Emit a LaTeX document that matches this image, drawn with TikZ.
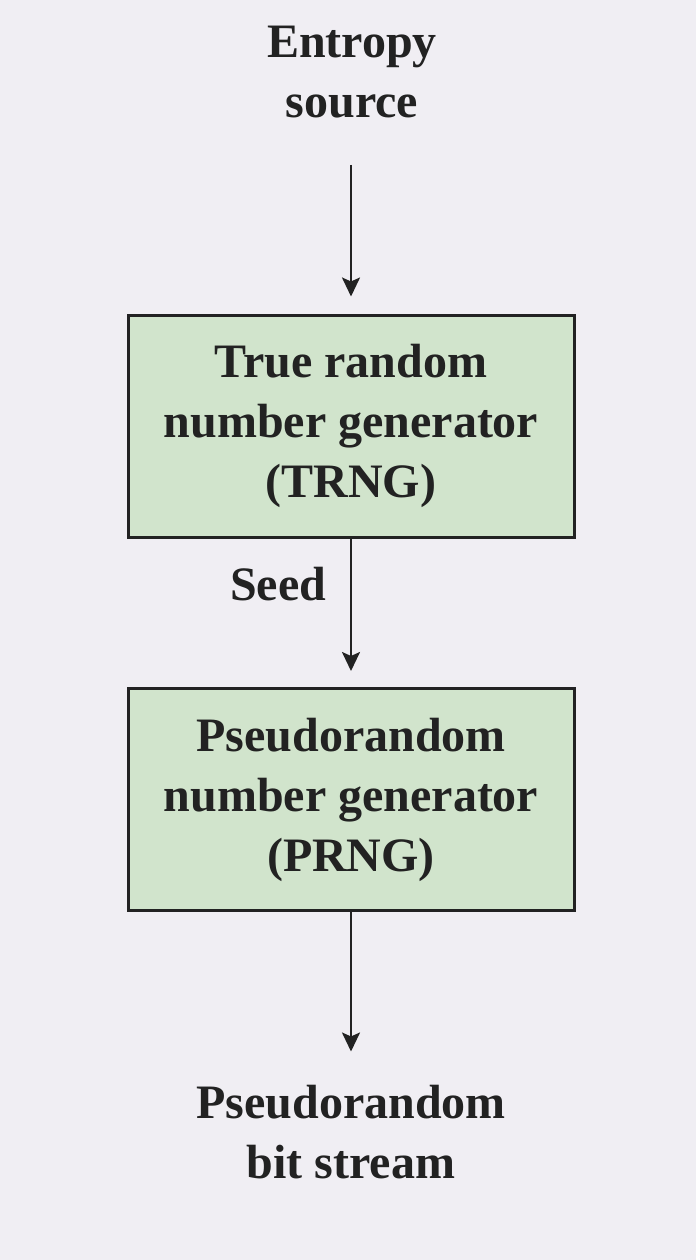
\documentclass[tikz,border=0pt]{standalone}
\usepackage{fontspec}
\setmainfont{Liberation Serif}
\usetikzlibrary{arrows.meta}
\definecolor{bgcol}{HTML}{F0EEF3}
\definecolor{boxfill}{HTML}{D1E4CC}
\definecolor{linecol}{HTML}{222222}
\tikzset{
  txt/.style={font=\fontsize{48}{60}\selectfont\bfseries, align=center, inner sep=0pt, text=linecol},
  genbox/.style={txt, draw=linecol, line width=3pt, fill=boxfill, minimum width=446pt, minimum height=222pt},
  arr/.style={draw=linecol, line width=2.4pt, -{Stealth[length=19pt,width=18pt,inset=4pt]}}
}
\begin{document}
\begin{tikzpicture}[x=1pt,y=-1pt]
\fill[bgcol] (0,0) rectangle (696,1260);
\useasboundingbox (0,0) rectangle (696,1260);
\node[txt, anchor=base] (src) at (352,118) {Entropy\\source};
\node[genbox] (trng) at (351,426) {True random\\number generator\\(TRNG)};
\node[genbox] (prng) at (351,799.5) {Pseudorandom\\number generator\\(PRNG)};
\node[txt, anchor=base] (seed) at (278,600) {Seed};
\node[txt, anchor=base] (out) at (351,1178) {Pseudorandom\\bit stream};
\draw[arr, shorten <=46pt, shorten >=17pt] (src.south -| trng.north) -- (trng.north);
\draw[arr, shorten >=16pt] (trng) -- (prng);
\draw[arr, shorten >=33pt] (prng.south) -- (prng.south |- out.north);
\end{tikzpicture}
\end{document}
